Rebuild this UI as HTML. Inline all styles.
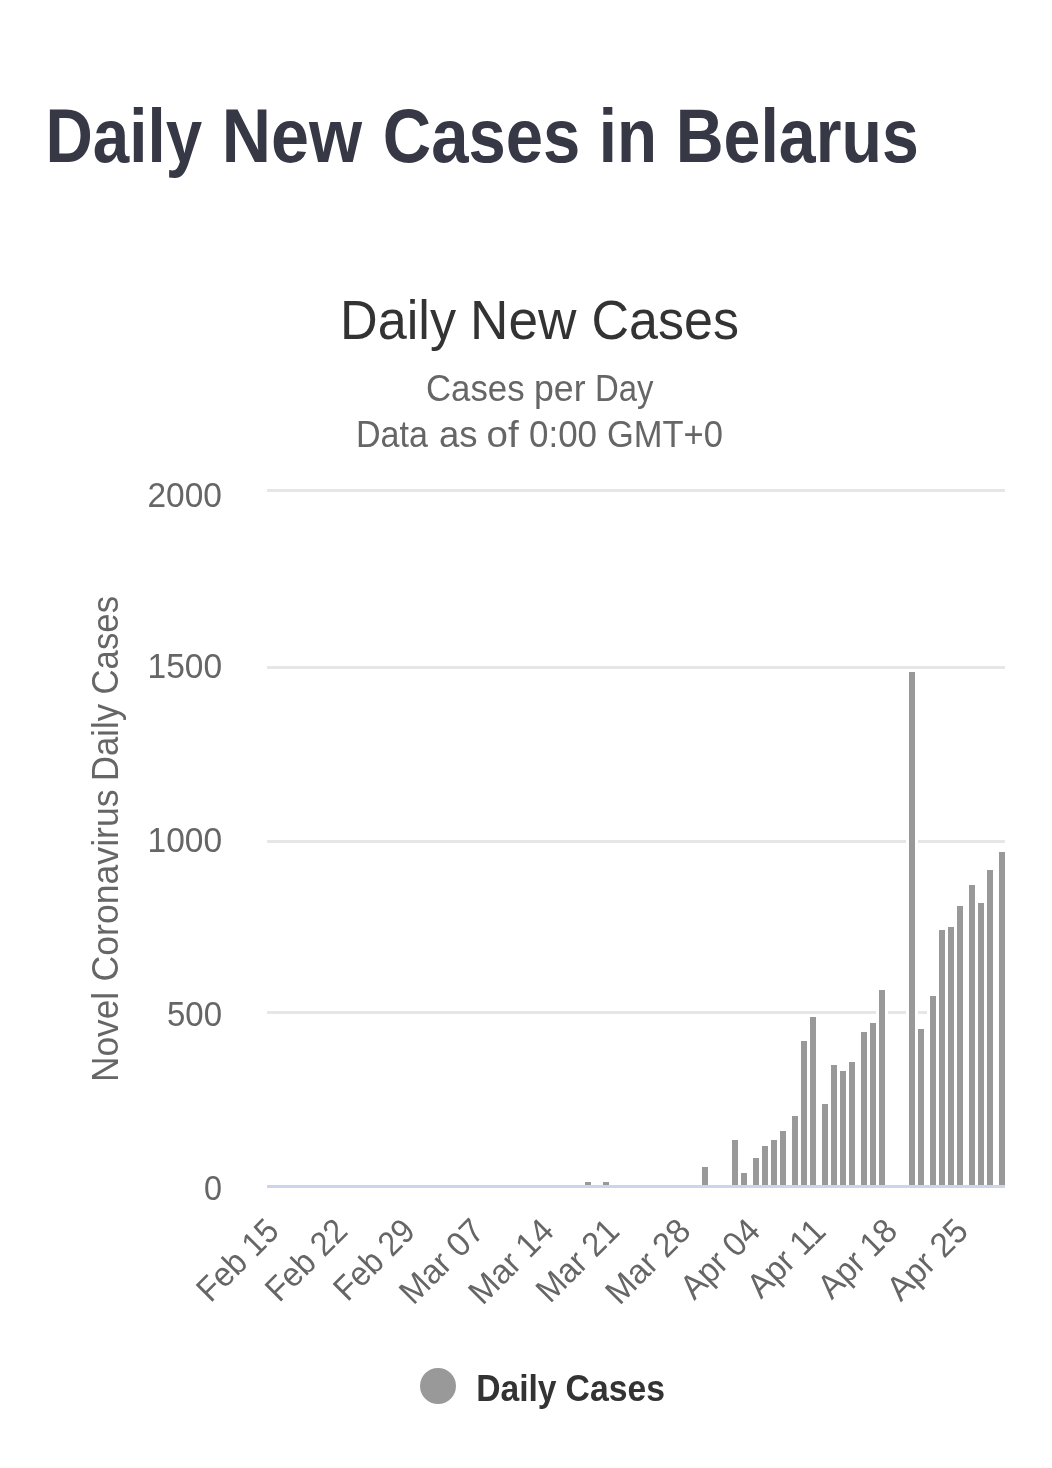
<!DOCTYPE html>
<html lang="en"><head><meta charset="utf-8"><title>Daily New Cases in Belarus</title>
<style>
html,body{margin:0;padding:0;background:#ffffff;}
body{width:1052px;height:1468px;position:relative;overflow:hidden;font-family:"Liberation Sans",Arial,sans-serif;}
svg{position:absolute;left:0;top:0;display:block;}
</style></head><body>
<svg width="1052" height="1468" viewBox="0 0 1052 1468">
<g class="grid" fill="#e6e6e6">
<rect x="267" y="489" width="738" height="3"/>
<rect x="267" y="666" width="738" height="3"/>
<rect x="267" y="840" width="738" height="3"/>
<rect x="267" y="1011" width="738" height="3"/>
</g>
<g class="halo" fill="#ffffff">
<rect x="582" y="1179" width="12" height="6"/>
<rect x="600" y="1179" width="12" height="6"/>
<rect x="699" y="1164" width="12" height="21"/>
<rect x="729" y="1137" width="12" height="48"/>
<rect x="738" y="1170" width="12" height="15"/>
<rect x="750" y="1155" width="12" height="30"/>
<rect x="759" y="1143" width="12" height="42"/>
<rect x="768" y="1137" width="12" height="48"/>
<rect x="777" y="1128" width="12" height="57"/>
<rect x="789" y="1113" width="12" height="72"/>
<rect x="798" y="1038" width="12" height="147"/>
<rect x="807" y="1014" width="12" height="171"/>
<rect x="819" y="1101" width="12" height="84"/>
<rect x="828" y="1062" width="12" height="123"/>
<rect x="837" y="1068" width="12" height="117"/>
<rect x="846" y="1059" width="12" height="126"/>
<rect x="858" y="1029" width="12" height="156"/>
<rect x="867" y="1020" width="12" height="165"/>
<rect x="876" y="987" width="12" height="198"/>
<rect x="906" y="669" width="12" height="516"/>
<rect x="915" y="1026" width="12" height="159"/>
<rect x="927" y="993" width="12" height="192"/>
<rect x="936" y="927" width="12" height="258"/>
<rect x="945" y="924" width="12" height="261"/>
<rect x="954" y="903" width="12" height="282"/>
<rect x="966" y="882" width="12" height="303"/>
<rect x="975" y="900" width="12" height="285"/>
<rect x="984" y="867" width="12" height="318"/>
<rect x="996" y="849" width="12" height="336"/>
</g>
<g class="bars" fill="#999999">
<rect x="585" y="1182" width="6" height="3"/>
<rect x="603" y="1182" width="6" height="3"/>
<rect x="702" y="1167" width="6" height="18"/>
<rect x="732" y="1140" width="6" height="45"/>
<rect x="741" y="1173" width="6" height="12"/>
<rect x="753" y="1158" width="6" height="27"/>
<rect x="762" y="1146" width="6" height="39"/>
<rect x="771" y="1140" width="6" height="45"/>
<rect x="780" y="1131" width="6" height="54"/>
<rect x="792" y="1116" width="6" height="69"/>
<rect x="801" y="1041" width="6" height="144"/>
<rect x="810" y="1017" width="6" height="168"/>
<rect x="822" y="1104" width="6" height="81"/>
<rect x="831" y="1065" width="6" height="120"/>
<rect x="840" y="1071" width="6" height="114"/>
<rect x="849" y="1062" width="6" height="123"/>
<rect x="861" y="1032" width="6" height="153"/>
<rect x="870" y="1023" width="6" height="162"/>
<rect x="879" y="990" width="6" height="195"/>
<rect x="909" y="672" width="6" height="513"/>
<rect x="918" y="1029" width="6" height="156"/>
<rect x="930" y="996" width="6" height="189"/>
<rect x="939" y="930" width="6" height="255"/>
<rect x="948" y="927" width="6" height="258"/>
<rect x="957" y="906" width="6" height="279"/>
<rect x="969" y="885" width="6" height="300"/>
<rect x="978" y="903" width="6" height="282"/>
<rect x="987" y="870" width="6" height="315"/>
<rect x="999" y="852" width="6" height="333"/>
</g>
<rect class="axis" x="267" y="1185" width="738" height="3" fill="#ccd6eb"/>
<g font-family="'Liberation Sans', Arial, sans-serif">
<text id="main" y="162" font-size="75.2" font-weight="bold" fill="#363945" xml:space="preserve"><tspan x="45.5" textLength="156.62" lengthAdjust="spacingAndGlyphs">Daily</tspan> <tspan x="221.7" textLength="140.31" lengthAdjust="spacingAndGlyphs">New</tspan> <tspan x="382.8" textLength="197.54" lengthAdjust="spacingAndGlyphs">Cases</tspan> <tspan x="598.7" textLength="58.23" lengthAdjust="spacingAndGlyphs">in</tspan> <tspan x="675.8" textLength="242.94" lengthAdjust="spacingAndGlyphs">Belarus</tspan></text>
<text id="ctitle" y="338.9" font-size="55" fill="#333333" xml:space="preserve"><tspan x="340" textLength="115.98" lengthAdjust="spacingAndGlyphs">Daily</tspan> <tspan x="470" textLength="106.38" lengthAdjust="spacingAndGlyphs">New</tspan> <tspan x="591.5" textLength="147.45" lengthAdjust="spacingAndGlyphs">Cases</tspan></text>
<text id="sub1" y="401.4" font-size="37.2" fill="#666666" xml:space="preserve"><tspan x="426" textLength="98.53" lengthAdjust="spacingAndGlyphs">Cases</tspan> <tspan x="534" textLength="51.5" lengthAdjust="spacingAndGlyphs">per</tspan> <tspan x="595" textLength="58.47" lengthAdjust="spacingAndGlyphs">Day</tspan></text>
<text id="sub2" y="446.7" font-size="37.2" fill="#666666" xml:space="preserve"><tspan x="356" textLength="71.99" lengthAdjust="spacingAndGlyphs">Data</tspan> <tspan x="439" textLength="38.59" lengthAdjust="spacingAndGlyphs">as</tspan> <tspan x="486.5" textLength="32.12" lengthAdjust="spacingAndGlyphs">of</tspan> <tspan x="529" textLength="68.02" lengthAdjust="spacingAndGlyphs">0:00</tspan> <tspan x="607" textLength="115.96" lengthAdjust="spacingAndGlyphs">GMT+0</tspan></text>
<text id="leg" y="1400.8" font-size="37.2" font-weight="bold" fill="#333333" xml:space="preserve"><tspan x="476.2" textLength="80.37" lengthAdjust="spacingAndGlyphs">Daily</tspan> <tspan x="565.6" textLength="99.39" lengthAdjust="spacingAndGlyphs">Cases</tspan></text>
<g class="ylabels" font-size="34.3" fill="#666666">
<text x="147.5" y="506.7" textLength="74.46" lengthAdjust="spacingAndGlyphs">2000</text>
<text x="147.5" y="677.7" textLength="74.53" lengthAdjust="spacingAndGlyphs">1500</text>
<text x="147.5" y="851.7" textLength="74.53" lengthAdjust="spacingAndGlyphs">1000</text>
<text x="167" y="1025.7" textLength="55.01" lengthAdjust="spacingAndGlyphs">500</text>
<text x="204" y="1199.7" textLength="17.97" lengthAdjust="spacingAndGlyphs">0</text>
</g>
<text id="ytitle" transform="rotate(-90)" y="118.1" font-size="37.2" fill="#666666" xml:space="preserve"><tspan x="-1082" textLength="90.16" lengthAdjust="spacingAndGlyphs">Novel</tspan> <tspan x="-981.5" textLength="192.02" lengthAdjust="spacingAndGlyphs">Coronavirus</tspan> <tspan x="-781" textLength="77" lengthAdjust="spacingAndGlyphs">Daily</tspan> <tspan x="-694.5" textLength="98.53" lengthAdjust="spacingAndGlyphs">Cases</tspan></text>
<g class="xlabels" font-size="34.3" fill="#666666" text-anchor="end">
<text transform="translate(280.86,1233) rotate(-45)" textLength="99.61" lengthAdjust="spacingAndGlyphs">Feb 15</text>
<text transform="translate(349.33,1233) rotate(-45)" textLength="99.25" lengthAdjust="spacingAndGlyphs">Feb 22</text>
<text transform="translate(416.8,1233) rotate(-45)" textLength="98.14" lengthAdjust="spacingAndGlyphs">Feb 29</text>
<text transform="translate(486.28,1233) rotate(-45)" textLength="103.27" lengthAdjust="spacingAndGlyphs">Mar 07</text>
<text transform="translate(555.75,1233) rotate(-45)" textLength="103.48" lengthAdjust="spacingAndGlyphs">Mar 14</text>
<text transform="translate(621.22,1233) rotate(-45)" textLength="100.87" lengthAdjust="spacingAndGlyphs">Mar 21</text>
<text transform="translate(692.7,1233) rotate(-45)" textLength="103.52" lengthAdjust="spacingAndGlyphs">Mar 28</text>
<text transform="translate(762.17,1233) rotate(-45)" textLength="96.22" lengthAdjust="spacingAndGlyphs">Apr 04</text>
<text transform="translate(827.64,1233) rotate(-45)" textLength="94.25" lengthAdjust="spacingAndGlyphs">Apr 11</text>
<text transform="translate(899.12,1233) rotate(-45)" textLength="95.44" lengthAdjust="spacingAndGlyphs">Apr 18</text>
<text transform="translate(970.09,1233) rotate(-45)" textLength="98.14" lengthAdjust="spacingAndGlyphs">Apr 25</text>
</g>
<circle cx="438" cy="1386" r="18" fill="#999999"/>
</g></svg>
</body></html>
